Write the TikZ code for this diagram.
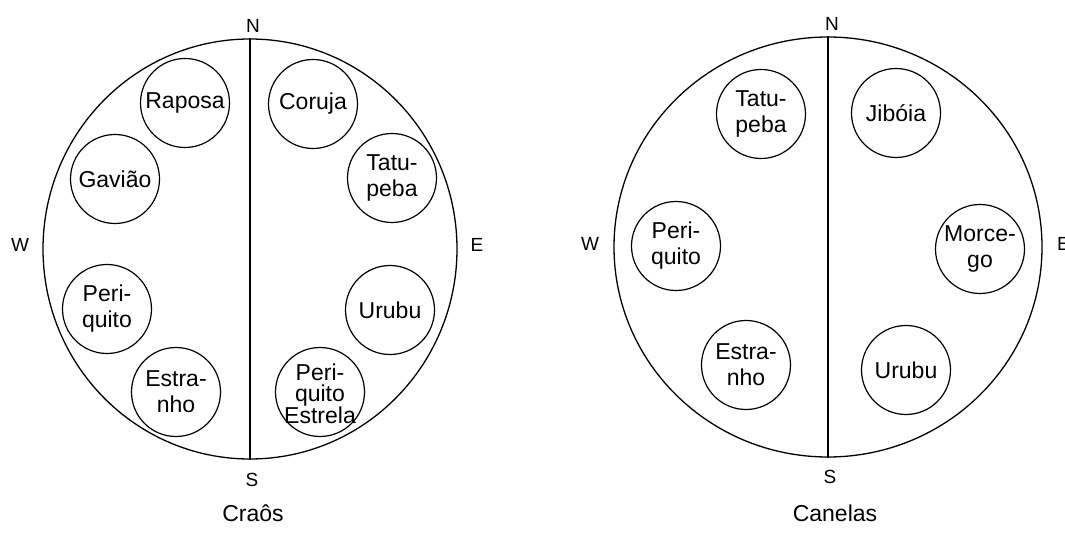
\documentclass[tikz,border=0pt]{standalone}
\usepackage{fontspec}
\setmainfont{Liberation Sans}
\usetikzlibrary{shapes.geometric}
\tikzset{
  ring/.style={draw, line width=1.3pt, ellipse, inner sep=0pt},
  clan/.style={draw, line width=1.2pt, circle, minimum size=89pt, inner sep=0pt},
  clantext/.style={align=center, inner sep=0pt, font=\fontsize{23}{26}\selectfont},
  axis/.style={line width=1.3pt},
  dir/.style={anchor=base, inner sep=0pt, font=\fontsize{19}{21}\selectfont},
  caption/.style={anchor=base, inner sep=0pt, font=\fontsize{23}{26}\selectfont}
}
\begin{document}
\begin{tikzpicture}[x=1pt, y=-1pt]
\useasboundingbox (0,0) rectangle (1065,534);

% ---- Craos village ----
\node[ring, minimum width=414pt, minimum height=420pt] (L) at (250,249) {};
\draw[axis] (L.north) -- (L.south);
\node[dir] (Ln) at (253,33) {N};
\node[dir] (Ls) at (252,486) {S};
\node[dir] (Lw) at (20,252) {W};
\node[dir] (Le) at (477,252) {E};
\node[caption] (Lcap) at (253,521) {Craôs};

\node[clan] (l1) at (185,103) {};
\node[clantext] (t1) at (l1.center) {Raposa};
\node[clan] (l2) at (115,179) {};
\node[clantext] (t2) at (l2.center) {Gavião};
\node[clan] (l3) at (107,309) {};
\node[clantext] (t3) at (l3.center) {Peri-\\quito};
\node[clan] (l4) at (176,392) {};
\node[clantext] (t4) at (l4.center) {Estra-\\nho};
\node[clan] (l5) at (313,104) {};
\node[clantext] (t5) at (l5.center) {Coruja};
\node[clan] (l6) at (392,178) {};
\node[clantext] (t6) at (l6.center) {Tatu-\\peba};
\node[clan] (l7) at (390,310) {};
\node[clantext] (t7) at (l7.center) {Urubu};
\node[clan] (l8) at (320,392) {};
\node[clantext, font=\fontsize{23}{21}\selectfont] (t8) at ([yshift=-2pt]l8.center) {Peri-\\quito\\Estrela};

% ---- Canelas village ----
\node[ring, minimum width=428pt, minimum height=420pt] (R) at (828,247) {};
\draw[axis] (R.north) -- (R.south);
\node[dir] (Rn) at (832,31) {N};
\node[dir] (Rs) at (830,483) {S};
\node[dir] (Rw) at (590,251) {W};
\node[dir, anchor=base west] (Re) at (1057,251) {E};
\node[caption] (Rcap) at (835,521) {Canelas};

\node[clan] (r1) at (761,114) {};
\node[clantext] (u1) at (r1.center) {Tatu-\\peba};
\node[clan] (r2) at (896,113) {};
\node[clantext] (u2) at (r2.center) {Jibóia};
\node[clan] (r3) at (676,246) {};
\node[clantext] (u3) at (r3.center) {Peri-\\quito};
\node[clan] (r4) at (980,249) {};
\node[clantext] (u4) at (r4.center) {Morce-\\go};
\node[clan] (r5) at (746,365) {};
\node[clantext] (u5) at (r5.center) {Estra-\\nho};
\node[clan] (r6) at (906,370) {};
\node[clantext] (u6) at (r6.center) {Urubu};
\end{tikzpicture}
\end{document}
